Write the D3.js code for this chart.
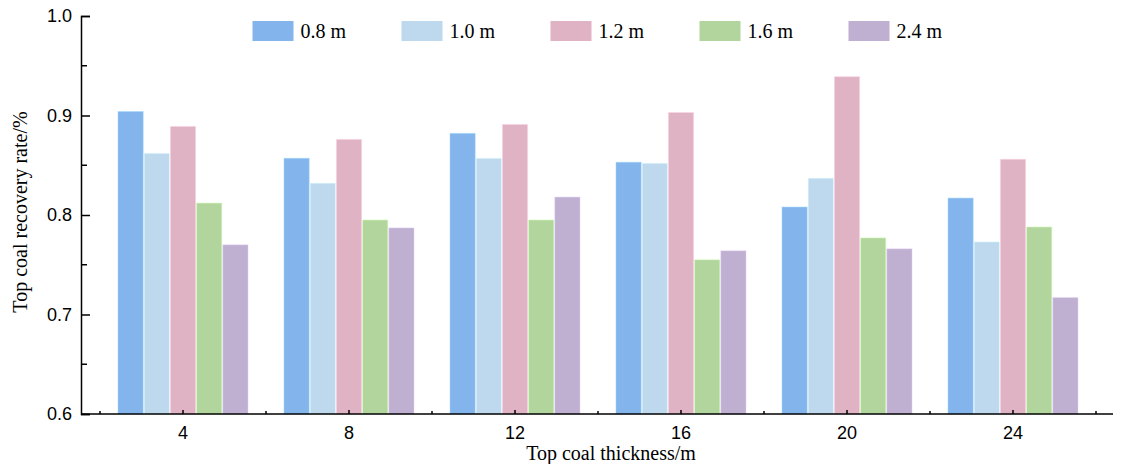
<!DOCTYPE html>
<html>
<head>
<meta charset="utf-8">
<script src="https://cdn.jsdelivr.net/npm/d3@7"></script>
<style>
  body { margin: 0; background: #fff; }
  svg { display: block; }
</style>
</head>
<body>
<div id="chart-area"></div>
<script>
// top coal thickness (m) on x, drawing interval series
var thickness = ["4", "8", "12", "16", "20", "24"];
var series = ["0.8 m", "1.0 m", "1.2 m", "1.6 m", "2.4 m"];
var colors = ["#83b4ec", "#bed8ee", "#dfb3c3", "#b2d59d", "#bfafd0"];

// recovery rate per series, one value per thickness
var rate08 = [0.904, 0.857, 0.882, 0.853, 0.808, 0.817];
var rate10 = [0.862, 0.832, 0.857, 0.852, 0.837, 0.773];
var rate12 = [0.889, 0.876, 0.891, 0.903, 0.939, 0.856];
var rate16 = [0.812, 0.795, 0.795, 0.755, 0.777, 0.788];
var rate24 = [0.770, 0.787, 0.818, 0.764, 0.766, 0.717];
var values = [rate08, rate10, rate12, rate16, rate24];

var yTicks = [0.6, 0.7, 0.8, 0.9, 1.0];
var yMinor = [0.65, 0.75, 0.85, 0.95];

var margin = { left: 81, right: 12, top: 16, bottom: 50 };
var W = 1125, H = 464;
var width = W - margin.left - margin.right,
    height = H - margin.top - margin.bottom;

var serif = "Liberation Serif, Times New Roman, serif";
var sans = "Liberation Sans, Arial, sans-serif";

var svg = d3.select("#chart-area")
    .append("svg")
        .attr("width", W)
        .attr("height", H);

var g = svg.append("g")
    .attr("transform", "translate(" + margin.left + "," + margin.top + ")");

var x0 = d3.scaleBand()
    .domain(thickness)
    .range([19, 1015])
    .paddingInner(0)
    .paddingOuter(0);

var x1 = d3.scaleBand()
    .domain(series)
    .range([17.5, x0.bandwidth() - 17.5])
    .padding(0);

var y = d3.scaleLinear()
    .domain([0.6, 1.0])
    .range([height, 0]);

var color = d3.scaleOrdinal().domain(series).range(colors);

// bars
var rows = thickness.map(function(t, i) {
    return { t: t, vals: series.map(function(s, j) { return { s: s, v: values[j][i] }; }) };
});

var groups = g.selectAll(".grp")
    .data(rows)
    .enter().append("g")
        .attr("class", "grp")
        .attr("transform", d => "translate(" + x0(d.t) + ",0)");

groups.selectAll("rect")
    .data(d => d.vals)
    .enter().append("rect")
        .attr("x", d => x1(d.s) + 0.5)
        .attr("y", d => y(d.v))
        .attr("width", x1.bandwidth() - 1)
        .attr("height", d => height - y(d.v))
        .attr("fill", d => color(d.s))
        .attr("stroke", d => d3.color(color(d.s)).brighter(0.5))
        .attr("stroke-opacity", 0.5)
        .attr("stroke-width", 1);

// y axis
var yAxis = g.append("g")
    .call(d3.axisLeft(y).tickValues(yTicks).tickFormat(d3.format(".1f")).tickSize(-9).tickPadding(8));
yAxis.select(".domain").attr("stroke", "#000").attr("stroke-width", 1.5);
yAxis.selectAll(".tick line").attr("stroke", "#000").attr("stroke-width", 1.5);
yAxis.selectAll("text")
    .attr("font-family", sans)
    .attr("font-size", 18)
    .attr("fill", "#000")
    .attr("x", -9);

g.append("g").selectAll("line")
    .data(yMinor)
    .enter().append("line")
        .attr("x1", 0).attr("x2", 6)
        .attr("y1", d => y(d)).attr("y2", d => y(d))
        .attr("stroke", "#000").attr("stroke-width", 1.5);

// x axis
var xAxis = g.append("g")
    .attr("transform", "translate(0," + height + ")")
    .call(d3.axisBottom(x0).tickSize(-4).tickPadding(12).tickSizeOuter(0));
xAxis.select(".domain").attr("stroke", "#000").attr("stroke-width", 1.5)
    .attr("d", "M0,0H" + width);
xAxis.selectAll(".tick line").attr("stroke", "#000").attr("stroke-width", 1.5);
xAxis.selectAll("text")
    .attr("font-family", sans)
    .attr("font-size", 18)
    .attr("fill", "#000");

// minor ticks at band edges
var edges = thickness.map(t => x0(t)).concat([x0.range()[1]]);
g.append("g").selectAll("line")
    .data(edges)
    .enter().append("line")
        .attr("x1", d => d).attr("x2", d => d)
        .attr("y1", height).attr("y2", height - 3)
        .attr("stroke", "#000").attr("stroke-width", 1.5);

// axis titles
svg.append("text")
    .attr("x", 611)
    .attr("y", 460)
    .attr("text-anchor", "middle")
    .attr("font-family", serif)
    .attr("font-size", 20)
    .text("Top coal thickness/m");

svg.append("text")
    .attr("transform", "translate(27,212) rotate(-90)")
    .attr("text-anchor", "middle")
    .attr("font-family", serif)
    .attr("font-size", 20)
    .text("Top coal recovery rate/%");

// legend
var legend = svg.append("g").selectAll("g")
    .data(series)
    .enter().append("g")
        .attr("transform", (d, i) => "translate(" + (252.5 + i * 149) + ",21)");

legend.append("rect")
    .attr("width", 41)
    .attr("height", 20)
    .attr("fill", d => color(d));

legend.append("text")
    .attr("x", 48)
    .attr("y", 16.5)
    .attr("font-family", serif)
    .attr("font-size", 20)
    .text(d => d);
</script>
</body>
</html>
